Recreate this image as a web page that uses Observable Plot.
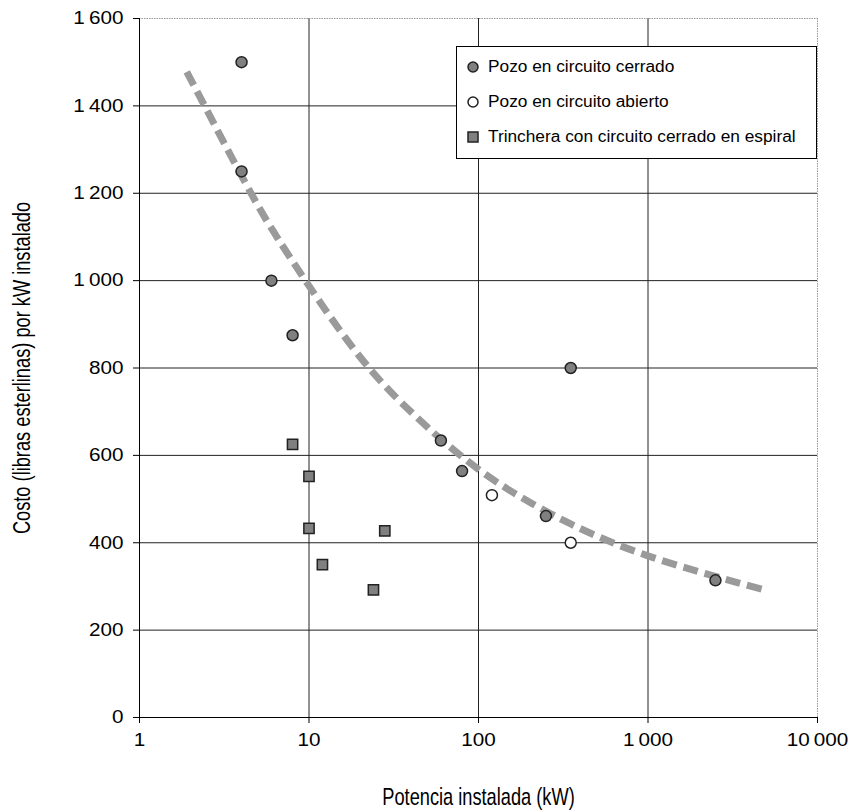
<!DOCTYPE html>
<html><head><meta charset="utf-8">
<script src="https://cdn.jsdelivr.net/npm/d3@7"></script>
<script src="https://cdn.jsdelivr.net/npm/@observablehq/plot@0.6"></script>
<style>
body{margin:0;background:#fff;}
#wrap{position:relative;width:856px;height:812px;font-family:"Liberation Sans",Arial,sans-serif;color:#000;}
#legend{position:absolute;left:456px;top:46px;width:359px;height:111px;border:1px solid #000;background:#fff;}
.row{position:absolute;left:8px;height:20px;display:flex;align-items:center;white-space:nowrap;}
.row svg{width:16px;height:16px;margin-right:7px;}
.row span{display:inline-block;font-size:16px;transform:scaleX(1.08);transform-origin:left center;}
</style></head><body><div id="wrap"></div>
<script>
// Pozo en circuito cerrado
const closedX = [4, 4, 6, 8, 60, 80, 250, 350, 2500];
const closedY = [1500, 1250, 1000, 875, 634, 564, 461, 800, 314];
// Pozo en circuito abierto
const openX = [120, 350];
const openY = [509, 400];
// Trinchera con circuito cerrado en espiral
const trenchX = [8, 10, 10, 12, 24, 28];
const trenchY = [625, 552, 433, 350, 292, 427];
// trend curve
const trendX = [1.9, 4, 6, 10, 22.4, 45, 60, 100, 177, 350, 1000, 3500, 5000];
const trendY = [1478, 1240, 1120, 988, 802, 681, 637, 568, 505, 443, 370, 307, 291];

const xTicks = [1, 10, 100, 1000, 10000];
const xTickLabels = ["1", "10", "100", "1\u2009000", "10\u2009000"];
const yTicks = [0, 200, 400, 600, 800, 1000, 1200, 1400, 1600];
const yTickLabels = ["0", "200", "400", "600", "800", "1\u2009000", "1\u2009200", "1\u2009400", "1\u2009600"];
const seriesNames = ["Pozo en circuito cerrado", "Pozo en circuito abierto", "Trinchera con circuito cerrado en espiral"];
const xTitle = "Potencia instalada (kW)";
const yTitle = "Costo (libras esterlinas) por kW instalado";

const closed = closedX.map((x, i) => ({x, y: closedY[i]}));
const open = openX.map((x, i) => ({x, y: openY[i]}));
const trench = trenchX.map((x, i) => ({x, y: trenchY[i]}));
const trend = trendX.map((x, i) => ({x, y: trendY[i]}));

const yMin = yTicks[0], yMax = yTicks[yTicks.length - 1];
const xMin = xTicks[0], xMax = xTicks[xTicks.length - 1];

const plot = Plot.plot({
  width: 856, height: 812,
  marginLeft: 139, marginRight: 39, marginTop: 18, marginBottom: 95,
  style: {fontFamily: "'Liberation Sans', Arial, sans-serif", background: "#fff", color: "#000"},
  x: {type: "log", domain: [xMin, xMax]},
  y: {domain: [yMin, yMax]},
  marks: [
    Plot.gridY(yTicks.slice(1, -1), {stroke: "#222", strokeOpacity: 1, strokeWidth: 1}),
    Plot.gridX(xTicks.slice(1, -1), {stroke: "#222", strokeOpacity: 1, strokeWidth: 1}),
    Plot.ruleY([yMax], {stroke: "#999", strokeDasharray: "1.5,1"}),
    Plot.ruleX([xMax], {stroke: "#999", strokeDasharray: "1.5,1"}),
    Plot.line(trend, {x: "x", y: "y", stroke: "#9a9a9a", strokeWidth: 7, strokeDasharray: "15,7",
      strokeLinecap: "butt", strokeLinejoin: "miter", curve: "natural"}),
    Plot.ruleY([yMin], {stroke: "#000"}),
    Plot.ruleX([xMin], {stroke: "#000"}),
    Plot.axisY({ticks: yTicks, tickFormat: d => yTickLabels[yTicks.indexOf(d)], tickSize: 6, tickPadding: 10, fontSize: 18,
      label: yTitle, labelAnchor: "center", labelOffset: 127, labelArrow: "none"}),
    Plot.axisX({ticks: xTicks, tickFormat: d => xTickLabels[xTicks.indexOf(d)], tickSize: 6, tickPadding: 10, fontSize: 18,
      label: xTitle, labelAnchor: "center", labelOffset: 87, labelArrow: "none"}),
    Plot.dot(closed, {x: "x", y: "y", r: 5.5, fill: "#808080", stroke: "#222", strokeWidth: 1.5}),
    Plot.dot(open, {x: "x", y: "y", r: 5.5, fill: "#fff", stroke: "#222", strokeWidth: 1.5}),
    Plot.dot(trench, {x: "x", y: "y", r: 5.8, symbol: "square", fill: "#808080", stroke: "#222", strokeWidth: 1.5})
  ]
});

function scaleText(sel, sx, fs) {
  d3.select(plot).selectAll(sel).each(function() {
    let t = this.getAttribute("transform");
    if (!t) {
      const x = this.getAttribute("x") || 0, y = this.getAttribute("y") || 0;
      this.removeAttribute("x"); this.removeAttribute("y");
      t = `translate(${x},${y})`;
    }
    this.setAttribute("transform", t + ` scale(${sx},1)`);
    if (fs) this.style.fontSize = fs + "px";
  });
}
scaleText('g[aria-label="y-axis tick label"] text', 1.15);
scaleText('g[aria-label="x-axis tick label"] text', 1.15);
scaleText('g[aria-label="y-axis label"] text', 0.76, 24);
scaleText('g[aria-label="x-axis label"] text', 0.76, 24);

const wrap = document.getElementById("wrap");
wrap.appendChild(plot);

// legend box
const legend = document.createElement("div");
legend.id = "legend";
const icons = [
  '<circle cx="8" cy="8" r="5" fill="#808080" stroke="#222" stroke-width="1.5"/>',
  '<circle cx="8" cy="8" r="5" fill="#fff" stroke="#222" stroke-width="1.5"/>',
  '<rect x="3" y="3" width="10" height="10" fill="#808080" stroke="#222" stroke-width="1.5"/>'
];
const rowTops = [10, 45, 80];
seriesNames.forEach((name, i) => {
  const row = document.createElement("div");
  row.className = "row";
  row.style.top = rowTops[i] + "px";
  row.innerHTML = `<svg viewBox="0 0 16 16">${icons[i]}</svg><span>${name}</span>`;
  legend.appendChild(row);
});
wrap.appendChild(legend);
</script>
</body></html>
